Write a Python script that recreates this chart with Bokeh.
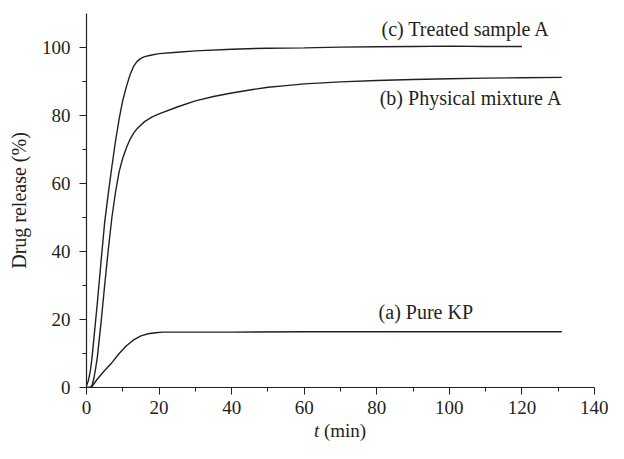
from bokeh.plotting import figure
from bokeh.models import FixedTicker, Label, Range1d, Div
from bokeh.layouts import column
from bokeh.embed import file_html
from bokeh.resources import INLINE

# (c) Treated sample A
t_c = [0, 0.5, 1, 1.5, 2, 3, 4, 5, 6, 7, 8, 9, 10, 11, 12, 13, 14, 15, 16, 18, 20,
       25, 30, 40, 50, 60, 70, 80, 90, 100, 110, 120]
y_c = [0.5, 2, 4.5, 8.5, 14, 25, 37, 48.5, 57, 65, 72.5, 79, 84.5, 88.5, 92, 94.5, 96,
       96.8, 97.3, 97.8, 98.2, 98.6, 99.0, 99.5, 99.8, 99.9, 100.1, 100.2, 100.3, 100.4,
       100.3, 100.3]

# (b) Physical mixture A
t_b = [0, 1, 1.5, 2, 2.5, 3, 4, 5, 6, 7, 8, 9, 10, 11, 12, 13, 14, 16, 18, 20, 25, 30,
       35, 40, 45, 50, 55, 60, 70, 80, 90, 100, 110, 120, 131]
y_b = [0, 0, 0.5, 2.5, 5.5, 9, 19, 30, 40.5, 50, 57.5, 63.5, 67.5, 70.5, 73, 74.8, 76.2,
       78.2, 79.5, 80.5, 82.5, 84.3, 85.6, 86.6, 87.5, 88.3, 88.8, 89.3, 89.9, 90.3, 90.6,
       90.8, 91.0, 91.1, 91.2]

# (a) Pure KP
t_a = [0, 1, 1.5, 3, 5, 7, 9, 11, 13, 15, 17, 19, 21, 25, 40, 60, 80, 100, 120, 131]
y_a = [0, 0, 0.3, 2.5, 5, 7.3, 10, 12.3, 14, 15.2, 15.8, 16.1, 16.3, 16.3, 16.3, 16.4,
       16.4, 16.4, 16.4, 16.4]

x_ticks = [0, 20, 40, 60, 80, 100, 120, 140]
x_minor = [10, 30, 50, 70, 90, 110, 130]
y_ticks = [0, 20, 40, 60, 80, 100]
y_minor = [10, 30, 50, 70, 90]

FONT = "Liberation Serif"
INK = "#231f20"

p = figure(width=608, height=420, x_range=Range1d(0, 140), y_range=Range1d(0, 110),
           output_backend="svg", toolbar_location=None,
           min_border_left=86, min_border_right=14, min_border_top=13, min_border_bottom=33)
p.outline_line_color = None
p.grid.visible = False
p.background_fill_color = "white"

for ax in (p.xaxis, p.yaxis):
    ax.axis_line_color = INK
    ax.axis_line_width = 1.2
    ax.major_tick_line_color = INK
    ax.minor_tick_line_color = INK
    ax.major_tick_in = 0
    ax.major_tick_out = 7
    ax.minor_tick_in = 0
    ax.minor_tick_out = 4
    ax.major_label_text_font = FONT
    ax.major_label_text_font_size = "19px"
    ax.major_label_text_color = INK

p.xaxis.ticker = FixedTicker(ticks=x_ticks, minor_ticks=x_minor)
p.yaxis.ticker = FixedTicker(ticks=y_ticks, minor_ticks=y_minor)
p.xaxis.major_label_standoff = 6
p.yaxis.major_label_standoff = 9
p.yaxis.axis_label = "Drug release (%)"
p.yaxis.axis_label_text_font = FONT
p.yaxis.axis_label_text_font_size = "20px"
p.yaxis.axis_label_text_font_style = "normal"
p.yaxis.axis_label_text_color = INK
p.yaxis.axis_label_standoff = 9

p.line(t_c, y_c, line_color=INK, line_width=1.4)
p.line(t_b, y_b, line_color=INK, line_width=1.4)
p.line(t_a, y_a, line_color=INK, line_width=1.4)

def lab(x, y, text):
    p.add_layout(Label(x=x, y=y, text=text, text_font=FONT, text_font_size="20px",
                       text_color=INK, text_baseline="middle", text_align="left"))

lab(81.3, 105.4, "(c) Treated sample A")
lab(80.8, 85.2, "(b) Physical mixture A")
lab(80.5, 22.2, "(a) Pure KP")

xlabel = Div(
    text=('<div style="font-family:\'Liberation Serif\',serif;font-size:19px;'
          'color:#231f20;text-align:center;line-height:22px;margin-left:86px;'
          'width:508px"><i>t</i> (min)</div>'),
    width=608, height=23, margin=0)

layout = column(p, xlabel, spacing=0)

open("out.html", "w").write(file_html(layout, INLINE))
